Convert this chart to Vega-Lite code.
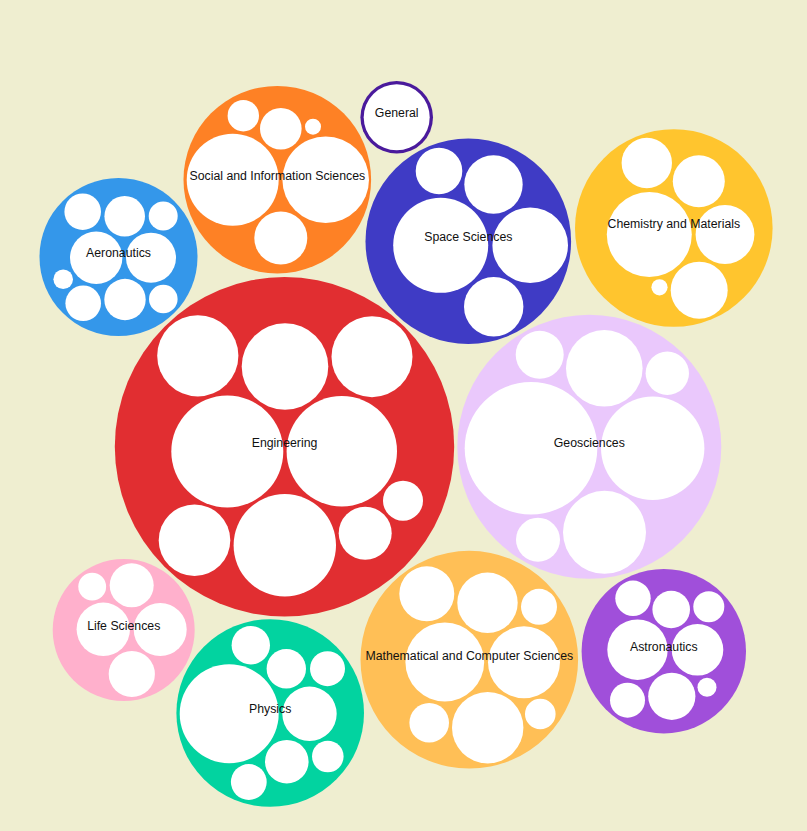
{
  "$schema": "https://vega.github.io/schema/vega-lite/v6.json",
  "width": 807,
  "height": 831,
  "autosize": {"type": "fit", "contains": "padding"},
  "padding": 0,
  "background": "#efeed0",
  "view": {"stroke": null},
  "datasets": {
    "groups": [
      {"group": "Aeronautics", "cx": 118.5, "cy": 257, "r": 79},
      {"group": "Social and Information Sciences", "cx": 277.3, "cy": 179.7, "r": 93.8},
      {"group": "General", "cx": 396.7, "cy": 117.3, "r": 36.3},
      {"group": "Space Sciences", "cx": 468.3, "cy": 241.2, "r": 102.8},
      {"group": "Chemistry and Materials", "cx": 673.8, "cy": 228, "r": 98.8},
      {"group": "Engineering", "cx": 284.5, "cy": 446.7, "r": 169.7},
      {"group": "Geosciences", "cx": 589.3, "cy": 446.7, "r": 132},
      {"group": "Life Sciences", "cx": 123.7, "cy": 630, "r": 71},
      {"group": "Physics", "cx": 270.2, "cy": 713, "r": 93.8},
      {"group": "Mathematical and Computer Sciences", "cx": 469.3, "cy": 659.7, "r": 108.8},
      {"group": "Astronautics", "cx": 663.8, "cy": 651.2, "r": 82.2}
    ],
    "items": [
      {"group": "Aeronautics", "cx": 82.7, "cy": 211.7, "r": 18.3},
      {"group": "Aeronautics", "cx": 124.7, "cy": 216.3, "r": 20.3},
      {"group": "Aeronautics", "cx": 163.2, "cy": 216, "r": 14.5},
      {"group": "Aeronautics", "cx": 96.2, "cy": 257.8, "r": 26.2},
      {"group": "Aeronautics", "cx": 151, "cy": 257.7, "r": 25},
      {"group": "Aeronautics", "cx": 63.2, "cy": 279.3, "r": 9.8},
      {"group": "Aeronautics", "cx": 83.2, "cy": 303.3, "r": 17.8},
      {"group": "Aeronautics", "cx": 125, "cy": 299.5, "r": 20.7},
      {"group": "Aeronautics", "cx": 163.3, "cy": 299, "r": 14.3},
      {"group": "Social and Information Sciences", "cx": 243.3, "cy": 115.7, "r": 15.7},
      {"group": "Social and Information Sciences", "cx": 280.8, "cy": 128.8, "r": 20.8},
      {"group": "Social and Information Sciences", "cx": 313, "cy": 126.7, "r": 8},
      {"group": "Social and Information Sciences", "cx": 232.7, "cy": 179.8, "r": 46},
      {"group": "Social and Information Sciences", "cx": 325.7, "cy": 179.7, "r": 43.3},
      {"group": "Social and Information Sciences", "cx": 280.8, "cy": 238, "r": 26.5},
      {"group": "General", "cx": 396.7, "cy": 117.3, "r": 33},
      {"group": "Space Sciences", "cx": 439, "cy": 171, "r": 23.3},
      {"group": "Space Sciences", "cx": 493.5, "cy": 184.5, "r": 29.2},
      {"group": "Space Sciences", "cx": 440.7, "cy": 245.3, "r": 47.5},
      {"group": "Space Sciences", "cx": 530.2, "cy": 245.2, "r": 37.8},
      {"group": "Space Sciences", "cx": 493.7, "cy": 306.7, "r": 29.7},
      {"group": "Chemistry and Materials", "cx": 646.8, "cy": 163, "r": 25.2},
      {"group": "Chemistry and Materials", "cx": 698.8, "cy": 181.3, "r": 26},
      {"group": "Chemistry and Materials", "cx": 649.3, "cy": 234.5, "r": 42.5},
      {"group": "Chemistry and Materials", "cx": 725, "cy": 234.5, "r": 29.4},
      {"group": "Chemistry and Materials", "cx": 699.2, "cy": 290.2, "r": 28.5},
      {"group": "Chemistry and Materials", "cx": 659.5, "cy": 287.3, "r": 8.1},
      {"group": "Engineering", "cx": 197.8, "cy": 355.8, "r": 40.6},
      {"group": "Engineering", "cx": 285, "cy": 366.5, "r": 43.3},
      {"group": "Engineering", "cx": 372, "cy": 356.7, "r": 40.5},
      {"group": "Engineering", "cx": 227.3, "cy": 451.5, "r": 56},
      {"group": "Engineering", "cx": 341.8, "cy": 451.2, "r": 55.2},
      {"group": "Engineering", "cx": 403, "cy": 500.7, "r": 20},
      {"group": "Engineering", "cx": 194.5, "cy": 540.2, "r": 35.8},
      {"group": "Engineering", "cx": 284.8, "cy": 545.3, "r": 51.2},
      {"group": "Engineering", "cx": 365.2, "cy": 533.2, "r": 26.5},
      {"group": "Geosciences", "cx": 539.7, "cy": 354.8, "r": 24},
      {"group": "Geosciences", "cx": 604.3, "cy": 368.3, "r": 38.3},
      {"group": "Geosciences", "cx": 667.3, "cy": 373.3, "r": 21.7},
      {"group": "Geosciences", "cx": 531, "cy": 448.3, "r": 66.3},
      {"group": "Geosciences", "cx": 652.7, "cy": 448.3, "r": 51.7},
      {"group": "Geosciences", "cx": 538, "cy": 539.7, "r": 22},
      {"group": "Geosciences", "cx": 604.5, "cy": 532.3, "r": 41.5},
      {"group": "Life Sciences", "cx": 92.2, "cy": 586.7, "r": 13.9},
      {"group": "Life Sciences", "cx": 131.7, "cy": 585.3, "r": 22},
      {"group": "Life Sciences", "cx": 103.3, "cy": 629.3, "r": 26.7},
      {"group": "Life Sciences", "cx": 160.2, "cy": 629.5, "r": 26.5},
      {"group": "Life Sciences", "cx": 131.8, "cy": 674, "r": 23.1},
      {"group": "Physics", "cx": 250.8, "cy": 645.2, "r": 19.2},
      {"group": "Physics", "cx": 286.3, "cy": 668.7, "r": 19.7},
      {"group": "Physics", "cx": 327.5, "cy": 668.7, "r": 17.5},
      {"group": "Physics", "cx": 229.2, "cy": 713.8, "r": 49.5},
      {"group": "Physics", "cx": 309.5, "cy": 713.8, "r": 27.2},
      {"group": "Physics", "cx": 286.8, "cy": 761.7, "r": 21.8},
      {"group": "Physics", "cx": 327.8, "cy": 756.5, "r": 15.8},
      {"group": "Physics", "cx": 248.8, "cy": 782, "r": 17.9},
      {"group": "Mathematical and Computer Sciences", "cx": 426.8, "cy": 593.8, "r": 27.5},
      {"group": "Mathematical and Computer Sciences", "cx": 487.5, "cy": 602.8, "r": 30.2},
      {"group": "Mathematical and Computer Sciences", "cx": 539, "cy": 606.8, "r": 18},
      {"group": "Mathematical and Computer Sciences", "cx": 444.8, "cy": 662, "r": 39.4},
      {"group": "Mathematical and Computer Sciences", "cx": 524, "cy": 662.3, "r": 36},
      {"group": "Mathematical and Computer Sciences", "cx": 429.2, "cy": 722.8, "r": 19.8},
      {"group": "Mathematical and Computer Sciences", "cx": 487.7, "cy": 727.7, "r": 35.7},
      {"group": "Mathematical and Computer Sciences", "cx": 540.3, "cy": 714, "r": 15.3},
      {"group": "Astronautics", "cx": 633, "cy": 598.3, "r": 17.7},
      {"group": "Astronautics", "cx": 671.2, "cy": 609.5, "r": 18.8},
      {"group": "Astronautics", "cx": 708.8, "cy": 606.8, "r": 15.5},
      {"group": "Astronautics", "cx": 637.5, "cy": 649.7, "r": 30.2},
      {"group": "Astronautics", "cx": 697.5, "cy": 649.8, "r": 25.8},
      {"group": "Astronautics", "cx": 627.5, "cy": 700.2, "r": 17.5},
      {"group": "Astronautics", "cx": 671.8, "cy": 696.3, "r": 23.6},
      {"group": "Astronautics", "cx": 707, "cy": 687.2, "r": 9.5}
    ]
  },
  "encoding": {
    "x": {"field": "cx", "type": "quantitative", "axis": null, "scale": {"domain": [0, 807], "nice": false, "zero": false}},
    "y": {"field": "cy", "type": "quantitative", "axis": null, "scale": {"domain": [0, 831], "nice": false, "zero": false, "reverse": true}}
  },
  "layer": [
    {
      "data": {"name": "groups"},
      "mark": {"type": "circle", "opacity": 1, "strokeWidth": 0},
      "encoding": {
        "size": {"field": "r", "type": "quantitative", "legend": null, "scale": {"type": "pow", "exponent": 2, "domain": [0, 100], "range": [0, 40000]}},
        "color": {
          "field": "group", "type": "nominal", "legend": null,
          "scale": {
            "domain": ["Aeronautics", "Social and Information Sciences", "General", "Space Sciences", "Chemistry and Materials", "Engineering", "Geosciences", "Life Sciences", "Physics", "Mathematical and Computer Sciences", "Astronautics"],
            "range": ["#3497ea", "#fe8125", "#4a1a9c", "#3f3bc5", "#ffc52e", "#e12e31", "#eac8fc", "#ffb0cc", "#02d3a0", "#ffbf56", "#a04fda"]
          }
        }
      }
    },
    {
      "data": {"name": "items"},
      "mark": {"type": "circle", "opacity": 1, "strokeWidth": 0, "color": "#ffffff"},
      "encoding": {
        "size": {"field": "r", "type": "quantitative", "legend": null, "scale": {"type": "pow", "exponent": 2, "domain": [0, 100], "range": [0, 40000]}}
      }
    },
    {
      "data": {"name": "groups"},
      "mark": {"type": "text", "font": "Liberation Sans", "fontSize": 12.3, "color": "#111111", "align": "center", "baseline": "alphabetic"},
      "encoding": {
        "text": {"field": "group", "type": "nominal"}
      }
    }
  ]
}
